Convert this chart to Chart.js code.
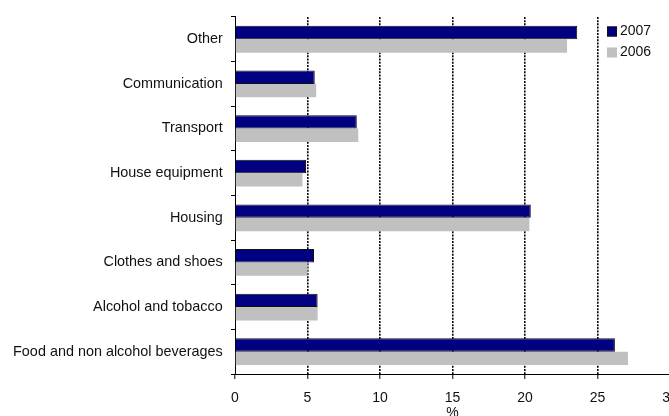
<!DOCTYPE html>
<html><head><meta charset="utf-8">
<script src="https://cdn.jsdelivr.net/npm/chart.js@4/dist/chart.umd.min.js"></script>
<style>
html,body{margin:0;padding:0;overflow:hidden;background:#fff;width:669px;height:416px;}
#wrap{position:absolute;left:0;top:0;width:700px;height:430px;}
</style></head><body>
<div id="wrap"><canvas id="c"></canvas></div>
<script>
const categories = ['Other','Communication','Transport','House equipment','Housing','Clothes and shoes','Alcohol and tobacco','Food and non alcohol beverages'];
const values2007 = [23.6, 5.5, 8.4, 4.9, 20.4, 5.45, 5.7, 26.2];
const values2006 = [22.9, 5.6, 8.5, 4.65, 20.3, 5.0, 5.7, 27.1];
const seriesNames = ['2007', '2006'];
const xMin = 0, xMax = 30, xStep = 5;
const axisTitle = '%';

const FONT = "'Liberation Sans', Arial, sans-serif";

const boxLegend = {
  id: 'boxLegend',
  afterDraw(chart, args, opts) {
    const ctx = chart.ctx;
    ctx.save();
    ctx.font = opts.fontSize + 'px ' + FONT;
    ctx.textBaseline = 'middle';
    ctx.textAlign = 'left';
    chart.data.datasets.forEach((ds, i) => {
      const cy = opts.y + i * opts.rowGap;
      ctx.fillStyle = ds.backgroundColor;
      ctx.fillRect(opts.x, cy - opts.box / 2, opts.box, opts.box);
      if (ds.borderWidth) {
        ctx.strokeStyle = ds.borderColor;
        ctx.lineWidth = 1;
        ctx.strokeRect(opts.x + 0.5, cy - opts.box / 2 + 0.5, opts.box - 1, opts.box - 1);
      }
      ctx.fillStyle = opts.color;
      ctx.fillText(ds.label, opts.x + opts.box + opts.gap, cy);
    });
    ctx.restore();
  }
};

new Chart(document.getElementById('c'), {
  type: 'bar',
  data: {
    labels: categories,
    datasets: [
      { label: seriesNames[0], data: values2007, backgroundColor: '#000080', borderColor: '#111111', borderWidth: 1, borderSkipped: 'start' },
      { label: seriesNames[1], data: values2006, backgroundColor: '#C0C0C0', borderWidth: 0 }
    ]
  },
  plugins: [boxLegend],
  options: {
    indexAxis: 'y',
    responsive: true,
    maintainAspectRatio: false,
    animation: false,
    devicePixelRatio: 1,
    categoryPercentage: 0.6,
    barPercentage: 1.0,
    layout: { padding: { left: 0, top: 14, right: 30, bottom: 0 } },
    plugins: {
      legend: { display: false },
      tooltip: { enabled: false },
      boxLegend: { x: 607, y: 31.5, rowGap: 21, box: 10, gap: 3, fontSize: 14, color: '#111' }
    },
    scales: {
      y: {
        type: 'category',
        grid: { drawOnChartArea: false, drawTicks: true, tickLength: 4, color: '#000', offset: true },
        border: { display: true, color: '#000', width: 1 },
        ticks: { font: { family: FONT, size: 14.4 }, color: '#111', padding: 8.3 },
        afterFit: s => { s.width = 235; }
      },
      x: {
        min: xMin, max: xMax,
        ticks: { stepSize: xStep, font: { family: FONT, size: 14 }, color: '#111', padding: 10.6, maxRotation: 0 },
        grid: {
          color: c => (c.tick && c.tick.value === 0) ? 'rgba(0,0,0,0)' : '#000',
          lineWidth: 1.6,
          tickLength: 5,
          tickColor: '#000',
          tickWidth: 1,
          tickBorderDash: []
        },
        border: { display: true, color: '#000', width: 1, dash: [2, 1.2] },
        title: { display: true, text: axisTitle, font: { family: FONT, size: 14 }, color: '#111', padding: { top: 0, bottom: 8.6 } },
        afterFit: s => { s.height = 56; }
      }
    }
  }
});
</script>
</body></html>
